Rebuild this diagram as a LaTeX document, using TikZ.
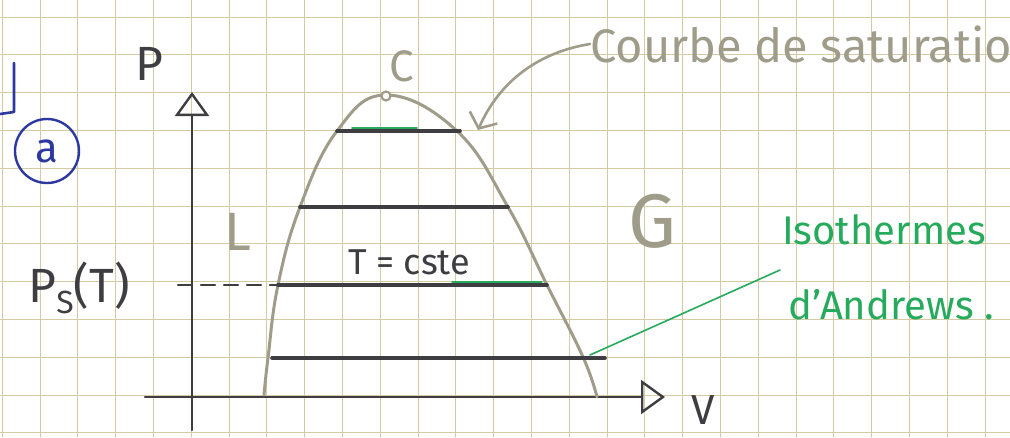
\documentclass[tikz,border=0pt]{standalone}
\usepackage{fontspec}
\setmainfont{Fira Sans}
\usetikzlibrary{arrows.meta,calc}

\definecolor{gridtan}{RGB}{212,202,164}
\definecolor{pencil}{RGB}{160,156,138}
\definecolor{ink}{RGB}{62,62,66}
\definecolor{greenink}{RGB}{38,170,92}
\definecolor{blueink}{RGB}{44,56,160}

\tikzset{
  gridline/.style={gridtan, line width=1pt},
  axisline/.style={ink, line width=2.6pt, -{Triangle[open, length=24pt, width=34pt, line width=2.4pt]}},
  isoline/.style={ink, line width=3.6pt},
  satline/.style={pencil, line width=3pt},
  handtext/.style={inner sep=0pt, font=\fontsize{40}{44}\selectfont},
}

\begin{document}
\begin{tikzpicture}[x=1pt, y=-1pt, line cap=round, line join=round]
  % Parameters
  \def\gridstep{37.8} % Spacing of the squared paper
  \def\axisx{192} % Position of the P axis
  \def\axisy{397} % Position of the V axis

  \useasboundingbox (0,0) rectangle (1010,437);
  \fill[white] (0,0) rectangle (1010,437);

  % Squared paper
  \foreach \k in {-1,...,25} {
      \draw[gridline] ({40+\k*\gridstep},0) -- ({40+\k*\gridstep},437);
  }
  \foreach \k in {0,...,11} {
      \draw[gridline] (0,{17+\k*\gridstep}) -- (1010,{17+\k*\gridstep});
  }

  % Axes
  \coordinate (pbot) at (\axisx,430);
  \coordinate (ptop) at (\axisx,92);
  \coordinate (vleft) at (145,\axisy);
  \coordinate (vright) at (665,\axisy);
  \draw[axisline] (pbot) -- (ptop);
  \draw[axisline] (vleft) -- (vright);
  \node[handtext, text=ink, font=\fontsize{48}{52}\selectfont] (plabel) at (149,64) {P};
  \node[handtext, text=ink, font=\fontsize{42}{46}\selectfont] (vlabel) at (703,410) {V};

  % Saturation curve
  \draw[satline] plot[smooth, tension=0.7] coordinates {(264,395) (268,358) (278,285) (300,207) (337,131) (386,95) (457,131) (508,207) (547,285) (583,357) (597,397)};
  \node[circle, draw=pencil, line width=2.2pt, fill=white, inner sep=0pt, minimum size=9pt] (crit) at (386,96) {};
  \node[handtext, text=pencil, font=\fontsize{44}{48}\selectfont] (clabel) at (402,66) {C};

  % Andrews isotherms
  \foreach \y/\xa/\xb [count=\n] in {131/337/460, 207/300/508, 285/278/547, 358/272/605} {
      \coordinate (iso\n a) at (\xa,\y);
      \coordinate (iso\n b) at (\xb,\y);
      \draw[isoline] (iso\n a) -- (iso\n b);
  }
  \draw[greenink, line width=1.6pt] ($(iso1a)+(15,-3)$) -- ($(iso1a)+(80,-3)$);
  \draw[greenink, line width=1.4pt] ($(iso3b)+(-95,-3)$) -- ($(iso3b)+(-5,-3)$);

  % Saturation pressure
  \coordinate (pstick) at (178,285);
  \draw[ink, line width=2.4pt, dash pattern=on 14pt off 9pt] (pstick) -- (iso3a);
  \node[handtext, text=ink, font=\fontsize{48}{52}\selectfont] (pslabel) at (79,288) {P\raisebox{-0.45ex}{\fontsize{32}{34}\selectfont S}(T)};
  \node[handtext, text=ink, font=\fontsize{36}{40}\selectfont] (tcste) at (409,262) {T = cste};

  % Phases
  \node[handtext, text=pencil, font=\fontsize{54}{58}\selectfont] (liq) at (238,232) {L};
  \node[handtext, text=pencil, font=\fontsize{76}{80}\selectfont] (gas) at (652,221) {G};

  % Labels with pointers
  \node[handtext, text=pencil, anchor=west, font=\fontsize{47}{50}\selectfont] (satlabel) at (590,44) {Courbe de saturation};
  \coordinate (sattip) at (478,130);
  \draw[pencil, line width=2.6pt, -{Straight Barb[length=12pt, width=30pt, line width=2.6pt]}] (satlabel.west) .. controls (540,52) and (500,80) .. (sattip);

  \node[handtext, text=greenink] (isolabel) at (884,230) {Isothermes};
  \node[handtext, text=greenink] (andlabel) at (891,305) {d'Andrews .};
  \coordinate (isofoot) at (780,270);
  \draw[greenink, line width=1.6pt] (isofoot) -- ($(iso4b)+(-15,-3)$);

  % Question mark
  \node[circle, draw=blueink, line width=2.4pt, minimum size=64pt, inner sep=0pt, text=blueink, font=\fontsize{42}{46}\selectfont] (qa) at (47,151) {a};
  \coordinate (brtop) at (14,63);
  \coordinate (brbot) at (14,112);
  \coordinate (brend) at (0,114);
  \draw[blueink, line width=2.6pt] (brtop) -- (brbot) -- (brend);
\end{tikzpicture}
\end{document}
